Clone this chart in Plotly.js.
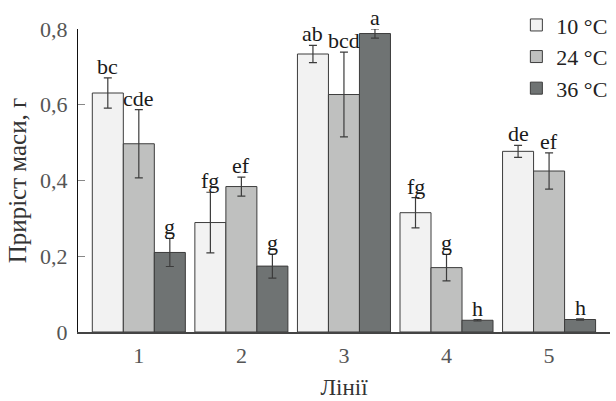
<!DOCTYPE html>
<html><head><meta charset="utf-8">
<script src="https://cdn.plot.ly/plotly-3.0.1.min.js"></script>
<style>html,body{margin:0;padding:0;background:#fff}#c{width:616px;height:401px}</style>
</head><body><div id="c"></div>
<script>
const lines = ['1','2','3','4','5'];
const seriesNames = ['10 °C','24 °C','36 °C'];
const v10 = [0.631, 0.289, 0.734, 0.315, 0.477];
const v24 = [0.497, 0.384, 0.627, 0.170, 0.425];
const v36 = [0.210, 0.174, 0.788, 0.031, 0.033];
const e10 = [0.040, 0.080, 0.023, 0.040, 0.016];
const e24 = [0.090, 0.025, 0.112, 0.035, 0.048];
const e36 = [0.037, 0.032, 0.012, 0.002, 0.002];
const l10 = ['bc','fg','ab','fg','de'];
const l24 = ['cde','ef','bcd','g','ef'];
const l36 = ['g','g','a','h','h'];
const colors = ['#f2f2f2','#bfc0bf','#6f7373'];
const yTickVals = [0, 0.2, 0.4, 0.6, 0.8];
const yTickText = ['0','0,2','0,4','0,6','0,8'];

const vals = [v10, v24, v36], errs = [e10, e24, e36], labs = [l10, l24, l36];
const bargap = 0.093;
const font = 'Liberation Serif';

const traces = vals.map((v, j) => ({
  type: 'bar', name: seriesNames[j], x: lines, y: v,
  marker: {color: colors[j], line: {color: '#3c3c3c', width: 1}},
  error_y: {type: 'data', array: errs[j], visible: true, color: '#3c3c3c', thickness: 1.2, width: 4}
}));

const w = (1 - bargap) / 3;
const annotations = [];
vals.forEach((v, j) => v.forEach((val, i) => {
  annotations.push({
    x: i + (j - 1) * w, y: val + errs[j][i], xref: 'x', yref: 'y',
    text: labs[j][i], showarrow: false, yanchor: 'bottom', yshift: -3,
    font: {family: font, size: 22, color: '#1a1a1a'}
  });
}));

const layout = {
  width: 616, height: 401,
  margin: {l: 78, r: 4, t: 24, b: 69},
  paper_bgcolor: '#fff', plot_bgcolor: '#fff',
  barmode: 'group', bargap: bargap, bargroupgap: 0,
  font: {family: font},
  xaxis: {
    type: 'category', range: [-0.593, 4.594],
    showline: true, linecolor: '#444', linewidth: 1.5, ticks: '', showgrid: false, zeroline: false,
    tickfont: {family: font, size: 22, color: '#555'}, ticklabelstandoff: 3,
    title: {text: 'Лінії', font: {family: font, size: 23, color: '#333'}, standoff: 12}
  },
  yaxis: {
    range: [0, 0.8], showline: true, linecolor: '#111', linewidth: 1,
    ticks: 'inside', ticklen: 7, tickcolor: '#888',
    tickvals: yTickVals, ticktext: yTickText, showgrid: false, zeroline: false,
    tickfont: {family: font, size: 22, color: '#555'}, ticklabelstandoff: 5,
    title: {text: 'Приріст маси, г', font: {family: font, size: 25, color: '#333'}, standoff: 6}
  },
  legend: {
    x: 0.824, y: 1.082, xanchor: 'left', yanchor: 'top', tracegroupgap: 0,
    font: {family: font, size: 22, color: '#222'}, bgcolor: 'rgba(0,0,0,0)'
  },
  annotations: annotations,
  showlegend: true
};
Plotly.newPlot('c', traces, layout, {displayModeBar: false, staticPlot: true});
</script></body></html>
